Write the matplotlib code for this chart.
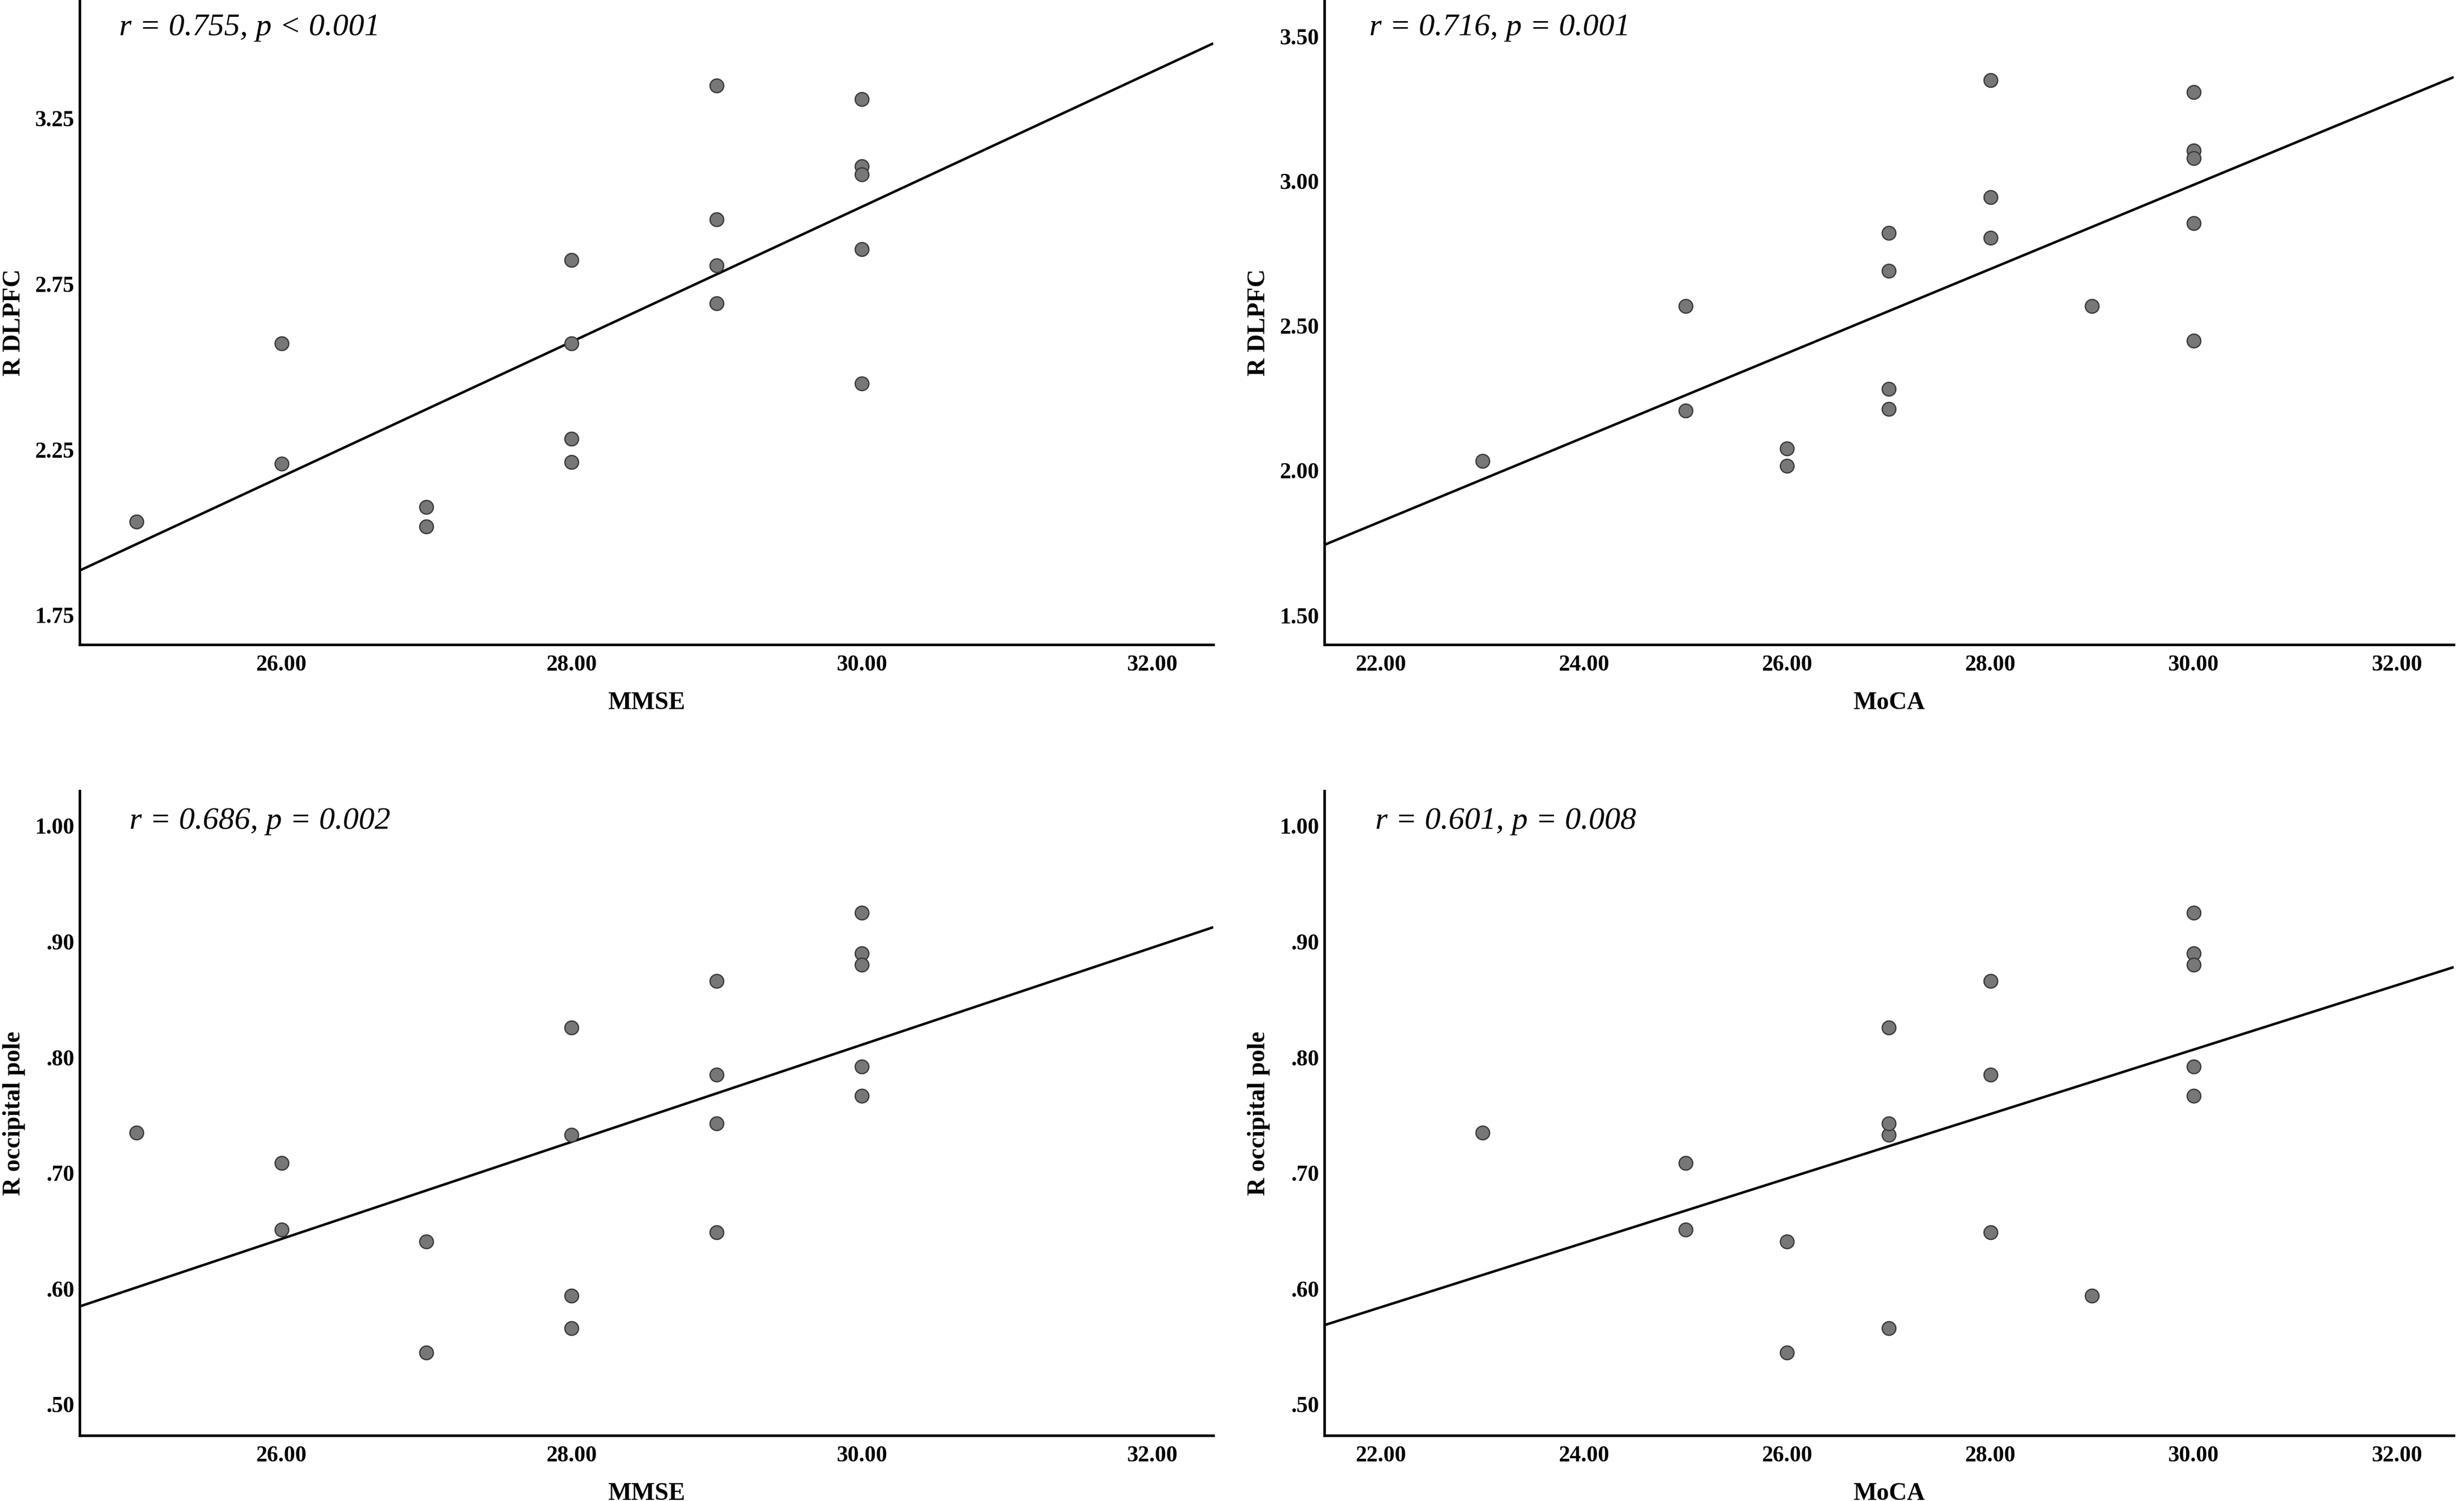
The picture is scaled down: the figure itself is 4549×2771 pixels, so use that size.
import numpy as np
import matplotlib
matplotlib.use("Agg")
import matplotlib.pyplot as plt
from matplotlib.ticker import FuncFormatter

# ---- data (18 participants) ----
mmse = [25, 26, 26, 27, 27, 28, 28, 28, 28, 29, 29, 29, 29, 30, 30, 30, 30, 30]
moca = [23, 25, 25, 26, 26, 27, 29, 27, 27, 28, 28, 28, 27, 30, 30, 30, 30, 30]
r_dlpfc = [2.033, 2.570, 2.207, 2.077, 2.017, 2.822, 2.570, 2.283, 2.213,
           3.349, 2.946, 2.806, 2.691, 3.308, 3.106, 3.081, 2.856, 2.450]
r_occipital = [0.735, 0.709, 0.651, 0.641, 0.545, 0.826, 0.594, 0.733, 0.566,
               0.866, 0.785, 0.649, 0.743, 0.925, 0.890, 0.880, 0.792, 0.767]

annotations = ["r = 0.755, p < 0.001", "r = 0.716, p = 0.001",
               "r = 0.686, p = 0.002", "r = 0.601, p = 0.008"]
x_labels = ["MMSE", "MoCA", "MMSE", "MoCA"]
y_labels = ["R DLPFC", "R DLPFC", "R occipital pole", "R occipital pole"]

mmse_ticks = [26, 28, 30, 32]
moca_ticks = [22, 24, 26, 28, 30, 32]
dlpfc_ticks_a = [1.75, 2.25, 2.75, 3.25]
dlpfc_ticks_b = [1.50, 2.00, 2.50, 3.00, 3.50]
occ_ticks = [0.50, 0.60, 0.70, 0.80, 0.90, 1.00]

W, H = 4549, 2771
DPI = 100
fig = plt.figure(figsize=(W / DPI, H / DPI), dpi=DPI)
fig.patch.set_facecolor("white")

serif = "Liberation Serif"

def px_rect(l, t, r, b):
    return [l / W, 1 - b / H, (r - l) / W, (b - t) / H]

panels = [
    dict(rect=px_rect(147, 0, 2240, 1190), x=mmse, y=r_dlpfc, xlim=(24.61, 32.42),
         ylim=(1.661, 3.608), xt=mmse_ticks, yt=dlpfc_ticks_a, ann=(0.035, 0.945)),
    dict(rect=px_rect(2445, 0, 4530, 1190), x=moca, y=r_dlpfc, xlim=(21.446, 32.56),
         ylim=(1.399, 3.627), xt=moca_ticks, yt=dlpfc_ticks_b, ann=(0.040, 0.945)),
    dict(rect=px_rect(147, 1460, 2240, 2650), x=mmse, y=r_occipital, xlim=(24.61, 32.42),
         ylim=(0.4733, 1.0304), xt=mmse_ticks, yt=occ_ticks, ann=(0.044, 0.941)),
    dict(rect=px_rect(2445, 1460, 4530, 2650), x=moca, y=r_occipital, xlim=(21.446, 32.56),
         ylim=(0.4733, 1.0304), xt=moca_ticks, yt=occ_ticks, ann=(0.045, 0.941)),
]

def fmt_x(v, pos):
    return f"{v:.2f}"

def fmt_y(v, pos):
    s = f"{v:.2f}"
    if s.startswith("0."):
        s = s[1:]
    return s

for i, p in enumerate(panels):
    ax = fig.add_axes(p["rect"])
    x = np.asarray(p["x"], dtype=float)
    y = np.asarray(p["y"], dtype=float)
    ax.scatter(x, y, s=330, facecolor="#777777", edgecolor="#3a3a3a",
               linewidths=1.7, zorder=3)
    slope, intercept = np.polyfit(x, y, 1)
    xs = np.array(p["xlim"])
    ax.plot(xs, intercept + slope * xs, color="black", lw=3.3, zorder=2,
            solid_capstyle="butt")
    ax.set_xlim(*p["xlim"])
    ax.set_ylim(*p["ylim"])
    ax.set_xticks(p["xt"])
    ax.set_yticks(p["yt"])
    ax.xaxis.set_major_formatter(FuncFormatter(fmt_x))
    ax.yaxis.set_major_formatter(FuncFormatter(fmt_y))
    for side in ["top", "right"]:
        ax.spines[side].set_visible(False)
    for side in ["left", "bottom"]:
        ax.spines[side].set_linewidth(3.4)
        ax.spines[side].set_color("black")
    ax.tick_params(axis="x", length=0, pad=14)
    ax.tick_params(axis="y", length=0, pad=7)
    for lab in ax.get_xticklabels() + ax.get_yticklabels():
        lab.set_fontfamily(serif)
        lab.set_fontweight("bold")
        lab.set_fontsize(30)
    ax.set_xlabel(x_labels[i], fontfamily=serif, fontweight="bold", fontsize=33)
    ax.set_ylabel(y_labels[i], fontfamily=serif, fontweight="bold", fontsize=33)
    ax.xaxis.set_label_coords(0.5, -0.073)
    ax.yaxis.set_label_coords(-0.048, 0.5)
    ax.text(p["ann"][0], p["ann"][1], annotations[i], transform=ax.transAxes,
            fontfamily=serif, fontstyle="italic", fontsize=42,
            ha="left", va="baseline")
    ax.set_facecolor("white")

fig.savefig("out.png", dpi=DPI, facecolor="white")
